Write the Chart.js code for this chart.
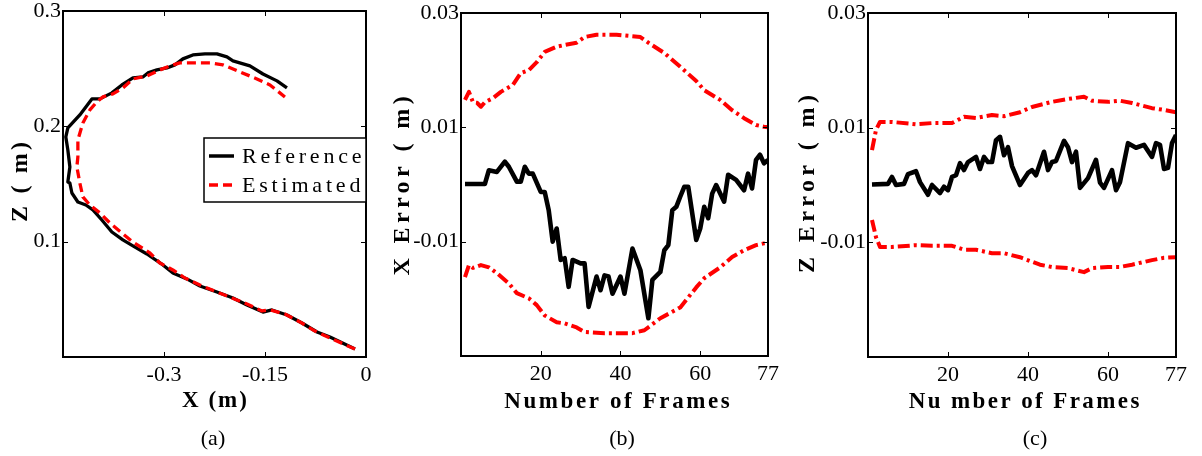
<!DOCTYPE html>
<html>
<head>
<meta charset="utf-8">
<script src="https://cdn.jsdelivr.net/npm/chart.js@4/dist/chart.umd.min.js"></script>
<style>
  body { margin: 0; background: #fff; }
  #fig { position: relative; width: 1202px; height: 456px; overflow: hidden; }
  canvas { position: absolute; top: 0; }
</style>
</head>
<body>
<div id="fig">
  <canvas id="chartA" width="385" height="456" style="left:0px"></canvas>
  <canvas id="chartB" width="405" height="456" style="left:385px"></canvas>
  <canvas id="chartC" width="412" height="456" style="left:790px"></canvas>
</div>
<script>
// (a) trajectory in the X-Z plane
const refX = [-0.0163,-0.0535,-0.0728,-0.0951,-0.1174,-0.1397,-0.1530,-0.1768,-0.1976,-0.2214,-0.2467,-0.2660,-0.2868,-0.3016,-0.3254,-0.3462,-0.3611,-0.3774,-0.3923,-0.4056,-0.4160,-0.4279,-0.4368,-0.4398,-0.4428,-0.4398,-0.4428,-0.4458,-0.4428,-0.4250,-0.4071,-0.3952,-0.3774,-0.3626,-0.3462,-0.3314,-0.3239,-0.3105,-0.2957,-0.2838,-0.2719,-0.2571,-0.2392,-0.2214,-0.2065,-0.1976,-0.1724,-0.1530,-0.1322,-0.1174];
const refZ = [0.0069,0.0173,0.0217,0.0295,0.0364,0.0408,0.0390,0.0451,0.0512,0.0564,0.0616,0.0677,0.0729,0.0798,0.0893,0.0963,0.1015,0.1084,0.1188,0.1275,0.1318,0.1344,0.1422,0.1509,0.1518,0.1648,0.1795,0.1908,0.1986,0.2099,0.2238,0.2238,0.2290,0.2359,0.2420,0.2428,0.2463,0.2489,0.2506,0.2533,0.2585,0.2619,0.2628,0.2628,0.2602,0.2567,0.2524,0.2454,0.2394,0.2333];
const estX = [-0.0163,-0.0535,-0.0758,-0.0981,-0.1204,-0.1426,-0.1545,-0.1768,-0.1991,-0.2214,-0.2467,-0.2689,-0.2868,-0.3061,-0.3210,-0.3462,-0.3626,-0.3804,-0.3952,-0.4101,-0.4205,-0.4250,-0.4294,-0.4279,-0.4279,-0.4205,-0.4101,-0.3997,-0.3908,-0.3759,-0.3611,-0.3462,-0.3254,-0.3061,-0.2912,-0.2764,-0.2571,-0.2318,-0.2125,-0.1872,-0.1620,-0.1426,-0.1204];
const estZ = [0.0069,0.0165,0.0225,0.0304,0.0373,0.0408,0.0399,0.0460,0.0512,0.0564,0.0624,0.0685,0.0755,0.0815,0.0902,0.0997,0.1075,0.1162,0.1249,0.1318,0.1388,0.1509,0.1648,0.1735,0.1882,0.2029,0.2142,0.2212,0.2255,0.2281,0.2333,0.2411,0.2437,0.2489,0.2524,0.2550,0.2550,0.2550,0.2533,0.2472,0.2411,0.2359,0.2255];
const trajXTicks = [-0.3, -0.15, 0];
const trajZTicks = [0.1, 0.2, 0.3];

// (b) X error with bounds
const xErrFrames = [1,6,7,9,11,12,14,15,16,17,18,20,21,22,23,24,25,26,27,28,30,31,32,34,35,36,37,38,40,41,43,45,47,48,50,51,52,53,54,55,56,57,59,60,61,62,63,64,66,67,69,71,72,73,74,75,76,77];
const xErr = [0.0001,0.0001,0.0025,0.0022,0.0040,0.0031,0.0005,0.0005,0.0031,0.0019,0.0019,-0.0013,-0.0013,-0.0045,-0.0100,-0.0077,-0.0132,-0.0129,-0.0179,-0.0132,-0.0138,-0.0138,-0.0214,-0.0161,-0.0185,-0.0159,-0.0161,-0.0191,-0.0161,-0.0191,-0.0112,-0.0150,-0.0234,-0.0167,-0.0153,-0.0115,-0.0106,-0.0045,-0.0039,-0.0021,-0.0004,-0.0004,-0.0097,-0.0077,-0.0039,-0.0059,-0.0016,-0.0001,-0.0030,0.0017,0.0008,-0.0010,0.0019,-0.0007,0.0043,0.0052,0.0037,0.0043];
const xUpFrames = [1,2,3,4,5,6,8,10,13,15,17,19,21,24,26,29,31,34,39,45,47,51,55,59,61,65,68,71,74,76,77];
const xUp = [0.0148,0.0162,0.0144,0.0143,0.0136,0.0144,0.0151,0.0162,0.0174,0.0195,0.0200,0.0214,0.0232,0.0241,0.0244,0.0248,0.0258,0.0262,0.0262,0.0258,0.0248,0.0230,0.0206,0.0181,0.0165,0.0148,0.0130,0.0116,0.0104,0.0101,0.0100];
const xLowFrames = [1,2,3,5,7,9,12,14,17,19,21,24,26,29,31,36,43,46,50,55,59,61,65,68,71,74,76,77];
const xLow = [-0.0162,-0.0141,-0.0146,-0.0141,-0.0145,-0.0155,-0.0173,-0.0190,-0.0199,-0.0211,-0.0229,-0.0241,-0.0243,-0.0250,-0.0258,-0.0260,-0.0260,-0.0255,-0.0234,-0.0215,-0.0180,-0.0164,-0.0145,-0.0127,-0.0115,-0.0106,-0.0103,-0.0102];

// (c) Z error with bounds
const zErrFrames = [1,5,6,7,9,10,12,13,15,16,18,19,20,21,22,23,24,25,27,28,29,30,31,32,33,34,35,36,38,40,41,42,44,45,46,47,49,50,51,52,53,55,57,58,59,61,62,63,65,67,69,71,72,73,74,75,76,77];
const zErr = [0.0001,0.0002,0.0014,0.0000,0.0002,0.0019,0.0024,0.0005,-0.0017,0.0000,-0.0014,-0.0003,-0.0009,0.0014,0.0017,0.0038,0.0026,0.0040,0.0049,0.0028,0.0049,0.0040,0.0040,0.0078,0.0084,0.0052,0.0066,0.0033,0.0000,0.0021,0.0026,0.0017,0.0058,0.0026,0.0040,0.0042,0.0077,0.0066,0.0040,0.0058,-0.0005,0.0012,0.0044,0.0004,-0.0005,0.0026,-0.0009,0.0005,0.0073,0.0065,0.0070,0.0049,0.0073,0.0070,0.0028,0.0030,0.0073,0.0087];
const zUpFrames = [1,2,3,6,12,16,21,24,27,31,34,38,41,46,50,54,56,60,63,66,71,74,77];
const zUp = [0.0061,0.0096,0.0110,0.0110,0.0106,0.0108,0.0108,0.0119,0.0117,0.0122,0.0120,0.0127,0.0136,0.0145,0.0150,0.0154,0.0147,0.0145,0.0147,0.0143,0.0134,0.0131,0.0127];
const zLowFrames = [1,2,3,6,12,16,21,24,27,31,34,38,43,46,50,54,56,60,63,66,71,74,77];
const zLow = [-0.0061,-0.0091,-0.0108,-0.0108,-0.0105,-0.0106,-0.0106,-0.0113,-0.0113,-0.0119,-0.0119,-0.0126,-0.0139,-0.0143,-0.0145,-0.0152,-0.0145,-0.0143,-0.0143,-0.0139,-0.0131,-0.0127,-0.0126];

const frameTicks = [20, 40, 60, 77];
const errTicks = [-0.01, 0.01, 0.03];

const SERIF = "'Liberation Serif', 'Times New Roman', serif";
const RED = '#ff0000';
const dashDot = [12, 4, 3, 4];

function pts(xs, ys) {
  return xs.map((x, i) => ({ x: x, y: ys[i] }));
}

function spacedText(ctx, text, x, y, font, spacing, rot) {
  ctx.save();
  ctx.translate(x, y);
  if (rot) ctx.rotate(rot);
  ctx.font = font;
  ctx.letterSpacing = spacing + 'px';
  ctx.fillStyle = '#000';
  ctx.textAlign = 'center';
  ctx.textBaseline = 'middle';
  ctx.fillText(text, spacing / 2, 0);
  ctx.restore();
}

// box, inward tick marks, titles, caption and legend
const figureText = {
  id: 'figureText',
  afterDraw(chart, args, o) {
    const ctx = chart.ctx, a = chart.chartArea;
    const sx = chart.scales.x, sy = chart.scales.y;
    ctx.save();
    ctx.strokeStyle = '#000';
    ctx.lineWidth = 1;
    ctx.beginPath();
    sx.ticks.forEach(t => {
      const p = Math.round(sx.getPixelForValue(t.value)) + 0.5;
      ctx.moveTo(p, a.bottom); ctx.lineTo(p, a.bottom - 5);
      ctx.moveTo(p, a.top); ctx.lineTo(p, a.top + 5);
    });
    sy.ticks.forEach(t => {
      const p = Math.round(sy.getPixelForValue(t.value)) + 0.5;
      ctx.moveTo(a.left, p); ctx.lineTo(a.left + 5, p);
      ctx.moveTo(a.right, p); ctx.lineTo(a.right - 5, p);
    });
    ctx.stroke();
    ctx.lineWidth = 2;
    ctx.strokeRect(a.left, a.top, a.right - a.left, a.bottom - a.top);

    if (o.legend) {
      const L = o.legend;
      ctx.fillStyle = '#fff';
      ctx.fillRect(L.x, L.y, L.w, L.h);
      ctx.lineWidth = 1.5;
      ctx.strokeRect(L.x, L.y, L.w, L.h);
      L.items.forEach(it => {
        ctx.save();
        ctx.strokeStyle = it.color;
        ctx.lineWidth = 3.5;
        ctx.setLineDash(it.dash || []);
        ctx.beginPath();
        ctx.moveTo(L.x + 5, it.y); ctx.lineTo(L.x + 30, it.y);
        ctx.stroke();
        ctx.restore();
        ctx.save();
        ctx.font = '22px ' + SERIF;
        ctx.letterSpacing = '3.8px';
        ctx.fillStyle = '#000';
        ctx.textBaseline = 'middle';
        ctx.fillText(it.text, L.x + 38, it.y + 1);
        ctx.restore();
      });
    }

    const bold = 'bold 23px ' + SERIF;
    spacedText(ctx, o.xTitle.text, o.xTitle.x, o.xTitle.y, bold, o.xTitle.sp, 0);
    spacedText(ctx, o.yTitle.text, o.yTitle.x, o.yTitle.y, 'bold 24px ' + SERIF, o.yTitle.sp, -Math.PI / 2);
    spacedText(ctx, o.caption.text, o.caption.x, o.caption.y, '22px ' + SERIF, 0, 0);
    ctx.restore();
  }
};

function makeChart(id, datasets, xr, yr, xTicks, yTicks, f, text) {
  const tickFont = { family: SERIF, size: 22 };
  return new Chart(document.getElementById(id), {
    type: 'scatter',
    data: { datasets: datasets },
    options: {
      responsive: false,
      animation: false,
      layout: { padding: { left: 0, top: f.top, right: f.right, bottom: 0 } },
      elements: { point: { radius: 0 }, line: { tension: 0, borderCapStyle: 'butt', borderJoinStyle: 'round' } },
      plugins: { legend: { display: false }, tooltip: { enabled: false }, figureText: text },
      scales: {
        x: {
          type: 'linear', min: xr[0], max: xr[1],
          grid: { display: false, drawTicks: false },
          border: { display: false },
          ticks: { font: tickFont, color: '#000', padding: 5, maxRotation: 0, autoSkip: false,
                   callback: v => String(v) },
          afterBuildTicks: s => { s.ticks = xTicks.map(v => ({ value: v })); },
          afterFit: s => { s.height = f.xH; s.paddingLeft = 0; s.paddingRight = 0; }
        },
        y: {
          type: 'linear', min: yr[0], max: yr[1],
          grid: { display: false, drawTicks: false },
          border: { display: false },
          ticks: { font: tickFont, color: '#000', padding: 2, autoSkip: false,
                   callback: v => String(v) },
          afterBuildTicks: s => { s.ticks = yTicks.map(v => ({ value: v })); },
          afterFit: s => { s.width = f.yW; s.paddingTop = 0; s.paddingBottom = 0; }
        }
      }
    },
    plugins: [figureText]
  });
}

function line(data, color, width, dash) {
  return { data: data, showLine: true, borderColor: color, backgroundColor: color,
           borderWidth: width, borderDash: dash || [], fill: false };
}

makeChart('chartA', [
    line(pts(estX, estZ), RED, 3.3, [9, 5]),
    line(pts(refX, refZ), '#000', 3.3)
  ], [-0.45, 0], [0, 0.3], trajXTicks, trajZTicks,
  { yW: 63, xH: 99, top: 11, right: 19 },
  {
    xTitle: { text: 'X (m)', x: 214.5, y: 401, sp: 2 },
    yTitle: { text: 'Z ( m)', x: 21, y: 182, sp: 3.2 },
    caption: { text: '(a)', x: 213, y: 439 },
    legend: { x: 204, y: 138, w: 162, h: 64, items: [
      { text: 'Reference', color: '#000', y: 156 },
      { text: 'Estimated', color: RED, dash: [9, 5], y: 185 }
    ] }
  });

makeChart('chartB', [
    line(pts(xUpFrames, xUp), RED, 4, dashDot),
    line(pts(xLowFrames, xLow), RED, 4, dashDot),
    line(pts(xErrFrames, xErr), '#000', 4.6)
  ], [0, 77], [-0.03, 0.03], frameTicks, errTicks,
  { yW: 76, xH: 100, top: 13, right: 22 },
  {
    xTitle: { text: 'Number of Frames', x: 232, y: 402, sp: 2.6 },
    yTitle: { text: 'X Error ( m)', x: 18, y: 186, sp: 4.4 },
    caption: { text: '(b)', x: 237, y: 439 }
  });

makeChart('chartC', [
    line(pts(zUpFrames, zUp), RED, 4, dashDot),
    line(pts(zLowFrames, zLow), RED, 4, dashDot),
    line(pts(zErrFrames, zErr), '#000', 4.6)
  ], [0, 77], [-0.03, 0.03], frameTicks, errTicks,
  { yW: 78, xH: 99, top: 13, right: 26 },
  {
    xTitle: { text: 'Nu mber of Frames', x: 234, y: 402, sp: 2.4 },
    yTitle: { text: 'Z Error ( m)', x: 18, y: 184, sp: 4.4 },
    caption: { text: '(c)', x: 245, y: 439 }
  });
</script>
</body>
</html>
